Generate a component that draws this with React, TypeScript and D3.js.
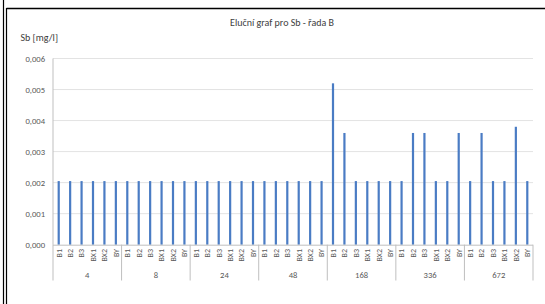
import React from "react";
import * as d3 from "d3";

const groups = ["4", "8", "24", "48", "168", "336", "672"];
const subLabels = ["B1", "B2", "B3", "BX1", "BX2", "BY"];
const values4 = [0.00205, 0.00205, 0.00205, 0.00205, 0.00205, 0.00205];
const values8 = [0.00205, 0.00205, 0.00205, 0.00205, 0.00205, 0.00205];
const values24 = [0.00205, 0.00205, 0.00205, 0.00205, 0.00205, 0.00205];
const values48 = [0.00205, 0.00205, 0.00205, 0.00205, 0.00205, 0.00205];
const values168 = [0.0052, 0.0036, 0.00205, 0.00205, 0.00205, 0.00205];
const values336 = [0.00205, 0.0036, 0.0036, 0.00205, 0.00205, 0.0036];
const values672 = [0.00205, 0.0036, 0.00205, 0.00205, 0.0038, 0.00205];
const yTicks = [0, 0.001, 0.002, 0.003, 0.004, 0.005, 0.006];

const allValues = [values4, values8, values24, values48, values168, values336, values672];

export default function App() {
  const W = 545, H = 304;
  const left = 53, right = 533, top = 58.5, bottom = 244.7;
  const items = groups.flatMap((g, gi) =>
    subLabels.map((s, si) => ({ key: g + "-" + s, group: g, sub: s, value: allValues[gi][si] }))
  );
  const x = d3.scaleBand<string>().domain(items.map((d) => d.key)).range([left, right]).padding(0);
  const y = d3.scaleLinear().domain([0, 0.006]).range([bottom, top]);
  const fmt = (v: number) => v.toFixed(3).replace(".", ",");
  const font = "Carlito, Calibri, 'Liberation Sans', Arial, sans-serif";
  const groupWidth = x.bandwidth() * subLabels.length;
  const sepBottom = 280.5;
  const barW = 2.2;

  return (
    <svg width={W} height={H} style={{ position: "absolute", left: 0, top: 0, background: "#fff" }} fontFamily={font}>
      {/* borders */}
      <line x1={3.5} x2={3.5} y1={0} y2={H} stroke="#000" strokeWidth={1.2} />
      <line x1={6.5} x2={6.5} y1={8} y2={H} stroke="#000" strokeWidth={1.2} />
      <line x1={6.5} x2={W} y1={8.5} y2={8.5} stroke="#000" strokeWidth={1.4} />

      <text x={282} y={26} textAnchor="middle" fontSize={10} fill="#404040">Eluční graf pro Sb - řada B</text>
      <text x={20.5} y={41} fontSize={10} fill="#404040">Sb [mg/l]</text>

      {yTicks.map((t) => (
        <g key={t}>
          {t > 0 && <line x1={left} x2={right} y1={y(t)} y2={y(t)} stroke="#e3e3e3" strokeWidth={1} />}
          <text x={45} y={y(t) + 3} textAnchor="end" fontSize={8.6} fill="#595959">{fmt(t)}</text>
        </g>
      ))}

      {items.map((d) => (
        <rect key={d.key} x={(x(d.key) as number) + x.bandwidth() / 2 - barW / 2} y={y(d.value)} width={barW}
          height={y(0) - y(d.value)} fill="#4a7cc4" />
      ))}

      {/* axes */}
      <line x1={left} x2={right} y1={bottom + 0.5} y2={bottom + 0.5} stroke="#bfbfbf" strokeWidth={1} />
      <line x1={left} x2={left} y1={top} y2={bottom} stroke="#bfbfbf" strokeWidth={1} />
      {groups.map((g, gi) => {
        const gx = left + gi * groupWidth;
        return <line key={"sep" + g} x1={gx} x2={gx} y1={bottom} y2={sepBottom} stroke="#bfbfbf" strokeWidth={1} />;
      })}
      <line x1={right} x2={right} y1={bottom} y2={sepBottom} stroke="#bfbfbf" strokeWidth={1} />

      {items.map((d) => {
        const cx = (x(d.key) as number) + x.bandwidth() / 2;
        return (
          <text key={"l" + d.key} transform={`translate(${cx + 2.8},249) rotate(-90)`} textAnchor="end"
            fontSize={8} fill="#595959">{d.sub}</text>
        );
      })}
      {groups.map((g, gi) => (
        <text key={"g" + g} x={left + (gi + 0.5) * groupWidth} y={277.5} textAnchor="middle" fontSize={8.6}
          fill="#595959">{g}</text>
      ))}
    </svg>
  );
}
